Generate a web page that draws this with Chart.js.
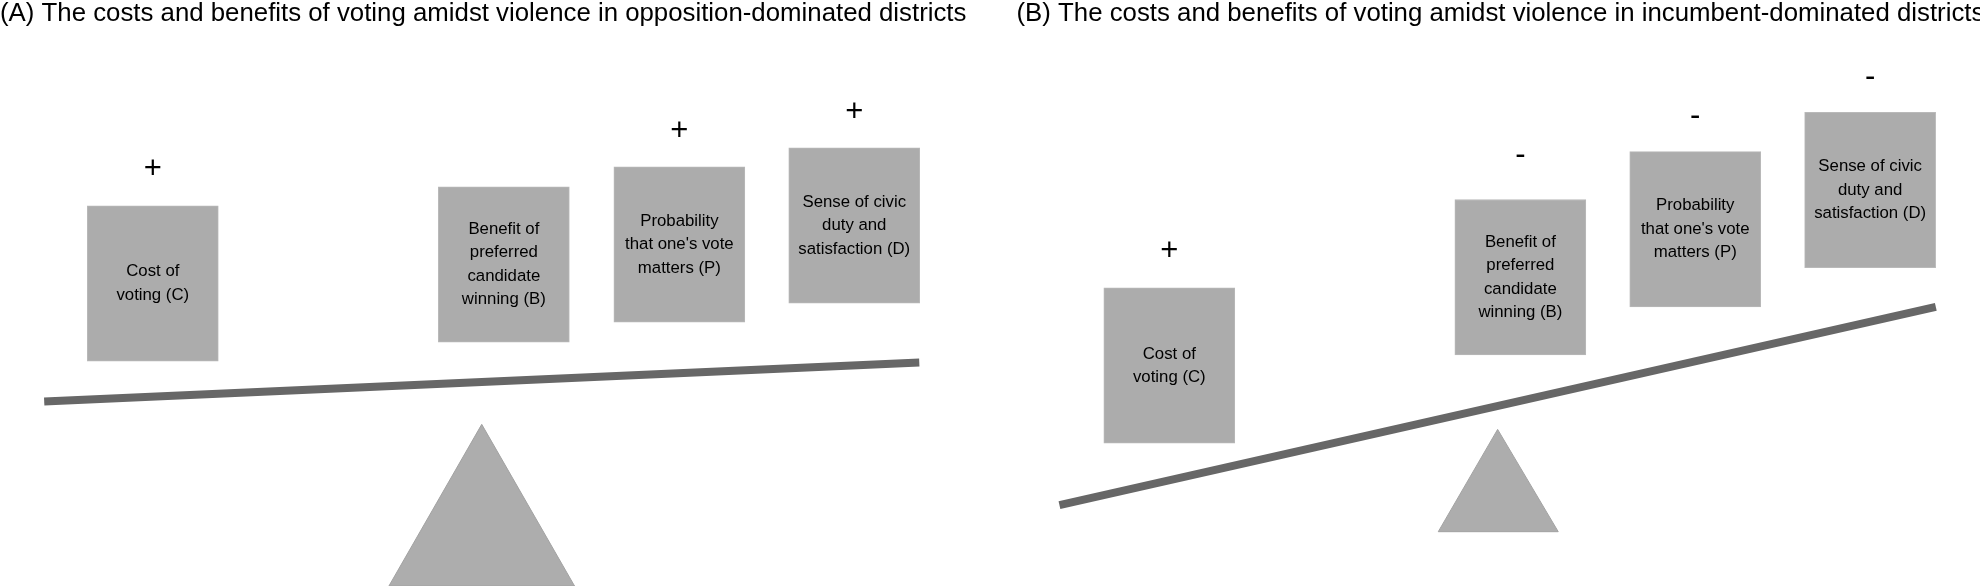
<!DOCTYPE html>
<html>
<head>
<meta charset="utf-8">
<script src="https://cdn.jsdelivr.net/npm/chart.js@4.4.0/dist/chart.umd.min.js"></script>
<style>
html, body { margin: 0; padding: 0; background: #fff; overflow: hidden; }
canvas { display: block; }
</style>
</head>
<body>
<canvas id="seesaw" width="1980" height="586"></canvas>
<script>
// diagram units: x 0..1568, y 0..464 (top down)
const panelTitles = [
    '(A) The costs and benefits of voting amidst violence in opposition-dominated districts',
    '(B) The costs and benefits of voting amidst violence in incumbent-dominated districts'
];
const titleX = [0, 805];
const boxLabels = [
    ['Cost of', 'voting (C)'],
    ['Benefit of', 'preferred', 'candidate', 'winning (B)'],
    ['Probability', "that one's vote", 'matters (P)'],
    ['Sense of civic', 'duty and', 'satisfaction (D)']
];
const boxCenterA = [121, 399, 538, 676.5];
const boxTopA = [163, 148, 132, 117];
const signsA = ['+', '', '+', '+'];
const signYA = [134, 0, 104, 89];
const boxCenterB = [926, 1204, 1342.5, 1481];
const boxTopB = [228, 158, 120, 89];
const signsB = ['+', '-', '-', '-'];
const signYB = [199, 123, 92, 61];
const beamA = [[35, 318], [728, 287]];
const beamB = [[839, 400], [1533, 243]];
const fulcrumA = [[381.5, 336], [455, 464], [308, 464], [381.5, 336]];
const fulcrumB = [[1186, 340], [1234, 421], [1139, 421], [1186, 340]];

const X_MAX = 1568, Y_MAX = 464;
const boxW = 104, boxH = 123;
const FONT = 'Arial, "Liberation Sans", sans-serif';

const ctx = document.getElementById('seesaw');
const toPts = arr => arr.map(p => ({ x: p[0], y: p[1] }));
const toBoxes = (centers, tops) => centers.map((x, i) => ({ x: x, y: [tops[i], tops[i] + boxH] }));

const textPlugin = {
    id: 'seesawText',
    afterDatasetsDraw(chart) {
        const c = chart.ctx;
        const xs = chart.scales.x, ys = chart.scales.y;
        c.save();
        c.fillStyle = '#000';
        c.textAlign = 'center';
        c.textBaseline = 'middle';
        const drawPanel = (centers, tops, signs, signY) => {
            centers.forEach((cx, i) => {
                const px = xs.getPixelForValue(cx);
                const mid = ys.getPixelForValue(tops[i] + boxH / 2);
                const lines = boxLabels[i];
                c.font = '16.8px ' + FONT;
                lines.forEach((t, j) => {
                    c.fillText(t, px, mid + (j - (lines.length - 1) / 2) * 23.5);
                });
                if (signs[i]) {
                    c.font = '31px ' + FONT;
                    c.fillText(signs[i], px, ys.getPixelForValue(signY[i]));
                }
            });
        };
        drawPanel(boxCenterA, boxTopA, signsA, signYA);
        drawPanel(boxCenterB, boxTopB, signsB, signYB);

        c.textAlign = 'left';
        c.textBaseline = 'alphabetic';
        c.font = '25.8px ' + FONT;
        panelTitles.forEach((t, k) => {
            c.fillText(t, xs.getPixelForValue(titleX[k]), ys.getPixelForValue(16.6));
        });
        c.restore();
    }
};

function lineSet(pts, opts) {
    return Object.assign({
        type: 'line',
        data: toPts(pts),
        pointRadius: 0,
        tension: 0,
        fill: false
    }, opts);
}

const chart = new Chart(ctx, {
    type: 'bar',
    data: {
        datasets: [
            {
                label: 'factors',
                data: toBoxes(boxCenterA, boxTopA).concat(toBoxes(boxCenterB, boxTopB)),
                backgroundColor: '#acacac',
                borderColor: '#b9b9b9',
                borderWidth: 1,
                borderSkipped: false,
                barThickness: Math.round(boxW * 1980 / X_MAX)
            },
            lineSet(beamA, { borderColor: '#676767', borderWidth: 8, borderCapStyle: 'butt' }),
            lineSet(beamB, { borderColor: '#676767', borderWidth: 8, borderCapStyle: 'butt' }),
            lineSet(fulcrumA, { borderColor: '#a2a2a2', borderWidth: 1, backgroundColor: '#adadad', fill: 'shape' }),
            lineSet(fulcrumB, { borderColor: '#a2a2a2', borderWidth: 1, backgroundColor: '#adadad', fill: 'shape' })
        ]
    },
    options: {
        responsive: false,
        devicePixelRatio: 1,
        animation: false,
        layout: { padding: 0 },
        plugins: {
            legend: { display: false },
            tooltip: { enabled: false },
            title: { display: false }
        },
        scales: {
            x: { type: 'linear', min: 0, max: X_MAX, offset: false, display: false },
            y: { type: 'linear', min: 0, max: Y_MAX, reverse: true, display: false }
        }
    },
    plugins: [textPlugin]
});
</script>
</body>
</html>
